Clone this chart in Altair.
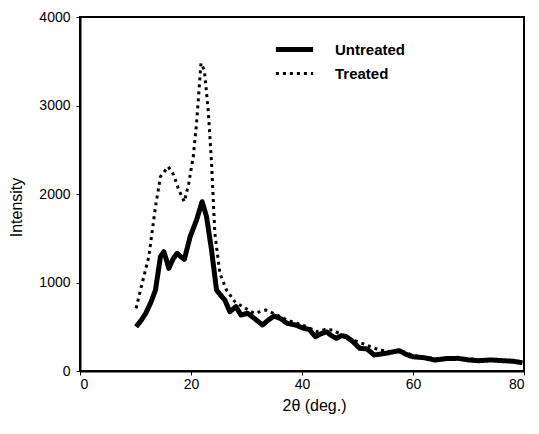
import altair as alt
import pandas as pd

# Untreated (solid)
x_untreated = [10.1, 11.0, 11.85, 12.8, 13.6, 14.5, 15.1, 15.6, 16.0, 16.8, 17.5, 18.2, 18.8, 19.85, 21.0, 22.0,
               22.8, 23.7, 24.6, 25.3, 26.1, 27.0, 28.1, 29.0, 30.2, 31.5, 32.9, 34.0, 35.0, 36.2, 37.3, 38.8,
               40.3, 41.3, 42.4, 43.4, 44.4, 45.3, 46.2, 47.1, 48.0, 49.2, 50.4, 51.7, 53.0, 54.0, 55.1, 56.3,
               57.5, 58.7, 59.9, 62.0, 64.0, 66.0, 68.1, 70.0, 71.7, 74.0, 76.4, 78.0, 79.7]
y_untreated = [500, 570, 652, 780, 915, 1292, 1348, 1250, 1160, 1270, 1330, 1290, 1262, 1518, 1706, 1913,
               1744, 1367, 915, 860, 802, 670, 727, 633, 652, 590, 520, 580, 621, 590, 539, 520,
               482, 470, 388, 420, 444, 400, 369, 400, 388, 330, 256, 250, 181, 190, 200, 215,
               230, 190, 162, 150, 124, 140, 143, 125, 116, 125, 116, 110, 94]

# Treated (dotted)
x_treated = [10.1, 10.9, 12.4, 13.6, 14.5, 15.9, 16.9, 17.8, 18.8, 19.6, 20.4, 21.0, 21.8, 22.4, 23.1, 23.7,
             24.3, 25.2, 26.4, 27.9, 29.3, 31.4, 33.5, 35.3, 37.3, 39.1, 40.9, 42.7, 44.2, 45.6, 47.4, 49.2,
             51.6, 53.9, 56.0, 58.0, 60.0, 64.0, 68.0, 72.0, 76.0, 79.7]
y_treated = [708, 915, 1292, 1857, 2196, 2309, 2215, 2045, 1913, 2121, 2421, 2799, 3477, 3401, 2949, 2347,
             1556, 1104, 915, 783, 727, 652, 689, 640, 576, 539, 500, 444, 470, 463, 400, 350,
             294, 237, 220, 225, 175, 140, 150, 125, 120, 100]

series_names = ["Untreated", "Treated"]
x_ticks = [0, 20, 40, 60, 80]
y_ticks = [0, 1000, 2000, 3000, 4000]

df = pd.concat([
    pd.DataFrame({"x": x_untreated, "y": y_untreated, "series": series_names[0], "o": range(len(x_untreated))}),
    pd.DataFrame({"x": x_treated, "y": y_treated, "series": series_names[1], "o": range(len(x_treated))}),
])

font = "Liberation Sans"

def leg():
    return alt.Legend(title=None, orient="none", legendX=200, legendY=18,
                      symbolType="M-1.55,0L1.55,0", symbolSize=576,
                      labelFont=font, labelFontSize=15, labelFontWeight="bold", labelColor="black",
                      rowPadding=0, labelOffset=26, padding=0)

chart = alt.Chart(df).mark_line(strokeCap="butt", strokeJoin="round").encode(
    x=alt.X("x:Q", title="2θ  (deg.)",
            scale=alt.Scale(domain=[0, 80], nice=False),
            axis=alt.Axis(values=x_ticks, format="d", grid=False, tickSize=4, titlePadding=6,
                          titleX=234, titleAlign="center")),
    y=alt.Y("y:Q", title="Intensity",
            scale=alt.Scale(domain=[0, 4000], nice=False),
            axis=alt.Axis(values=y_ticks, format="d", grid=False, tickSize=4, labelPadding=6,
                          titlePadding=14, titleY=190, titleAlign="center")),
    color=alt.Color("series:N", scale=alt.Scale(domain=series_names, range=["black", "black"]), legend=leg()),
    strokeDash=alt.StrokeDash("series:N", scale=alt.Scale(domain=series_names, range=[[1, 0], [3, 4]]),
                              legend=leg()),
    strokeWidth=alt.StrokeWidth("series:N", scale=alt.Scale(domain=series_names, range=[5, 3]),
                                legend=leg()),
    detail="series:N",
    order="o:Q",
).properties(
    width=444, height=354,
    autosize=alt.AutoSizeParams(type="none"),
    padding={"left": 72, "top": 9, "right": 7, "bottom": 48},
).configure_view(
    stroke="black", strokeWidth=2
).configure_axis(
    domainColor="black", domainWidth=2, tickColor="black", labelColor="black", titleColor="black",
    labelFont=font, titleFont=font, labelFontSize=14, titleFontSize=16, titleFontWeight="normal"
)

chart.save("out.html", embed_options={"renderer": "svg", "actions": False})
